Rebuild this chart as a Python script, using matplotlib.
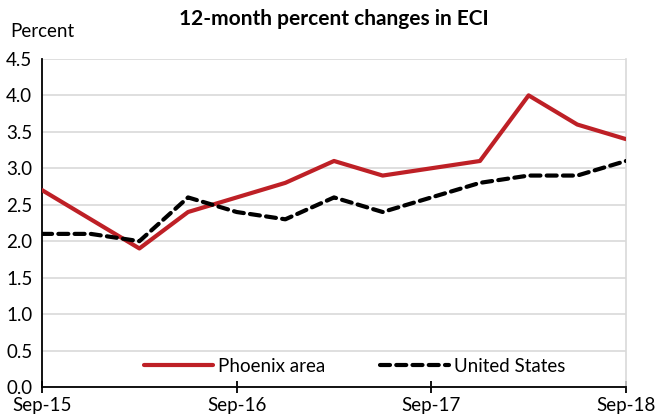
import matplotlib
matplotlib.use("Agg")
import matplotlib.pyplot as plt

quarters = ["Sep-15", "Dec-15", "Mar-16", "Jun-16", "Sep-16", "Dec-16", "Mar-17",
            "Jun-17", "Sep-17", "Dec-17", "Mar-18", "Jun-18", "Sep-18"]
phoenix = [2.7, 2.3, 1.9, 2.4, 2.6, 2.8, 3.1, 2.9, 3.0, 3.1, 4.0, 3.6, 3.4]
united_states = [2.1, 2.1, 2.0, 2.6, 2.4, 2.3, 2.6, 2.4, 2.6, 2.8, 2.9, 2.9, 3.1]
tick_labels = ["Sep-15", "Sep-16", "Sep-17", "Sep-18"]
y_ticks = [0.0, 0.5, 1.0, 1.5, 2.0, 2.5, 3.0, 3.5, 4.0, 4.5]

plt.rcParams['font.family'] = ['Lato', 'DejaVu Sans']

fig = plt.figure(figsize=(6.68, 4.19), dpi=100)
ax = fig.add_axes([0.063, 0.0764, 0.874, 0.783])

x = list(range(len(quarters)))
ax.plot(x, phoenix, color="#BE2026", lw=3.0, label="Phoenix area",
        solid_capstyle="round", solid_joinstyle="round", zorder=3)
ax.plot(x, united_states, color="black", lw=3.0, ls=(0, (2.4, 1.5)),
        dash_capstyle="round", dash_joinstyle="round", label="United States", zorder=3)

ax.set_xlim(0, len(quarters) - 1)
ax.set_ylim(0, 4.5)
ax.set_yticks(y_ticks)
ax.set_yticklabels([f"{v:.1f}" for v in y_ticks], fontsize=13.5)
tick_pos = [quarters.index(t) for t in tick_labels]
ax.set_xticks(tick_pos)
ax.set_xticklabels(tick_labels, fontsize=13.5)
ax.tick_params(axis='y', length=0, pad=7)
ax.tick_params(axis='x', direction='inout', length=8, width=1.3, pad=3)

ax.grid(axis='y', color="#D9D9D9", lw=1.2, zorder=0)
ax.set_axisbelow(True)
ax.spines["top"].set_visible(False)
ax.spines["right"].set_color("#D9D9D9")
ax.spines["right"].set_linewidth(1.2)
ax.spines["left"].set_color("black")
ax.spines["left"].set_linewidth(1.3)
ax.spines["bottom"].set_color("black")
ax.spines["bottom"].set_linewidth(1.3)

leg = ax.legend(loc="lower center", ncol=2, frameon=False, fontsize=13.5,
                bbox_to_anchor=(0.535, 0.0), handlelength=3.7, columnspacing=2.9,
                handletextpad=0.25, borderaxespad=0.25)

fig.text(0.015, 0.925, "Percent", fontsize=13.5, ha="left", va="center")
fig.text(0.5, 0.955, "12-month percent changes in ECI", fontsize=15,
         fontweight="bold", ha="center", va="center")

fig.savefig("out.png", dpi=100)
